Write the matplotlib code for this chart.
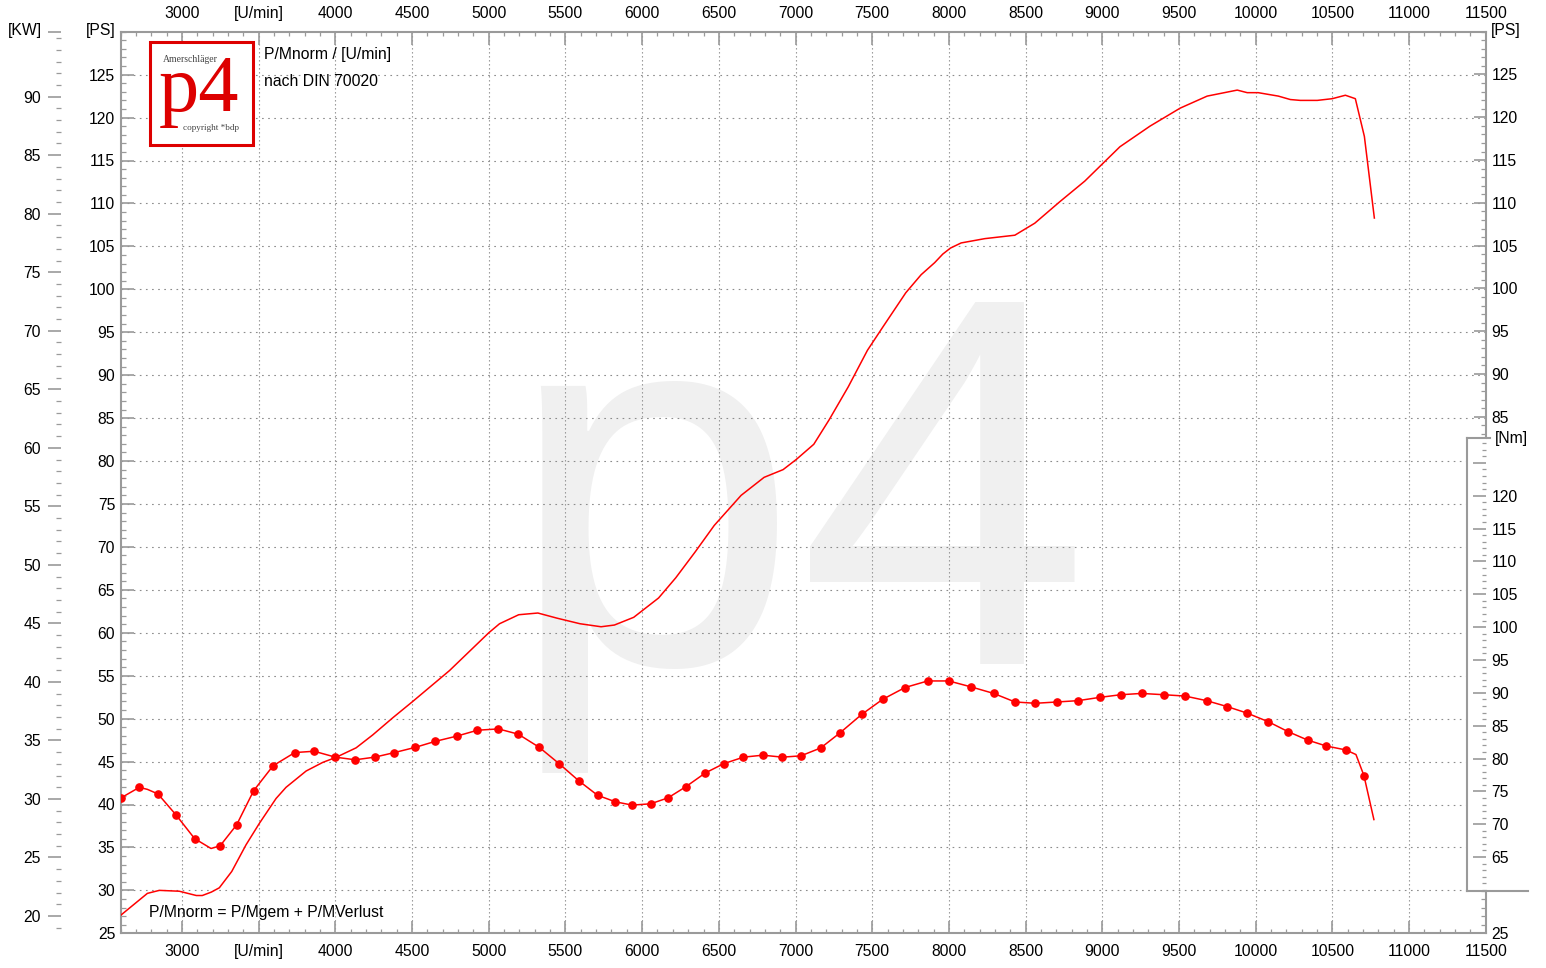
import matplotlib
matplotlib.use("Agg")
import matplotlib.pyplot as plt
from matplotlib.patches import Rectangle
from matplotlib.lines import Line2D
from matplotlib.ticker import MultipleLocator, FixedLocator, FixedFormatter

plt.rcParams['font.family'] = ['Liberation Sans', 'DejaVu Sans']

# power curve P/Mnorm [PS] over engine speed [U/min]
power_rpm = [2600, 2774, 2852, 2982, 3093, 3132, 3191, 3243, 3324, 3417, 3504, 3613, 3678, 3809, 3917,
             4005, 4135, 4243, 4374, 4504, 4744, 5000, 5070, 5195, 5320, 5445, 5595, 5732, 5819, 5945,
             6107, 6219, 6345, 6470, 6645, 6795, 6919, 7006, 7119, 7219, 7344, 7469, 7569, 7719, 7819,
             7907, 7960, 8010, 8080, 8234, 8430, 8560, 8723, 8886, 9115, 9311, 9508, 9684, 9880, 9945,
             10017, 10082, 10148, 10226, 10291, 10402, 10500, 10585, 10650, 10709, 10774]
power_ps = [27.1, 29.65, 30.0, 29.9, 29.4, 29.4, 29.8, 30.3, 32.2, 35.3, 37.8, 40.7, 42.0, 43.9, 44.9,
            45.5, 46.6, 48.1, 50.1, 52.0, 55.6, 60.0, 61.05, 62.1, 62.3, 61.7, 61.05, 60.7, 60.9, 61.8,
            64.05, 66.4, 69.4, 72.5, 76.0, 78.1, 79.0, 80.2, 81.95, 84.8, 88.65, 92.9, 95.6, 99.6, 101.7,
            103.1, 104.1, 104.8, 105.4, 105.9, 106.3, 107.7, 110.2, 112.6, 116.6, 119.0, 121.1, 122.5, 123.2, 122.9,
            122.9, 122.7, 122.5, 122.1, 122.0, 122.0, 122.2, 122.6, 122.2, 117.8, 108.3]

# torque curve [Nm]
torque_rpm = [2602, 2721, 2774, 2843, 2961, 3082, 3189, 3248, 3356, 3467, 3594, 3735, 3861, 4000, 4129,
              4256, 4385, 4522, 4650, 4791, 4926, 5063, 5192, 5329, 5459, 5587, 5709, 5826, 5935, 6055,
              6168, 6285, 6412, 6531, 6660, 6787, 6914, 7035, 7164, 7290, 7431, 7568, 7714, 7862, 7999,
              8144, 8292, 8431, 8564, 8705, 8842, 8984, 9119, 9256, 9403, 9540, 9680, 9814, 9945, 10082,
              10210, 10339, 10460, 10588, 10654, 10706, 10771]
torque_nm = [74.0, 75.6, 75.3, 74.6, 71.4, 67.8, 66.3, 66.7, 69.9, 75.1, 78.9, 80.9, 81.1, 80.2, 79.8,
             80.2, 80.9, 81.7, 82.6, 83.4, 84.3, 84.5, 83.7, 81.7, 79.2, 76.6, 74.4, 73.4, 72.9, 73.1,
             74.0, 75.7, 77.8, 79.2, 80.2, 80.5, 80.2, 80.4, 81.6, 83.9, 86.7, 89.0, 90.8, 91.8, 91.8,
             90.9, 89.9, 88.6, 88.4, 88.6, 88.8, 89.3, 89.7, 89.9, 89.7, 89.5, 88.8, 87.9, 86.9, 85.6,
             84.1, 82.8, 81.9, 81.3, 80.6, 77.4, 70.7]
# samples of the torque line that carry no dot
torque_no_dot = [2774, 3189, 10654, 10771]

rpm_ticks = [3000, 3500, 4000, 4500, 5000, 5500, 6000, 6500, 7000, 7500, 8000, 8500, 9000, 9500,
             10000, 10500, 11000, 11500]
rpm_labels = ['3000', '[U/min]', '4000', '4500', '5000', '5500', '6000', '6500', '7000', '7500',
              '8000', '8500', '9000', '9500', '10000', '10500', '11000', '11500']
ps_ticks = [25, 30, 35, 40, 45, 50, 55, 60, 65, 70, 75, 80, 85, 90, 95, 100, 105, 110, 115, 120, 125]
kw_ticks = [20, 25, 30, 35, 40, 45, 50, 55, 60, 65, 70, 75, 80, 85, 90]
nm_ticks = [65, 70, 75, 80, 85, 90, 95, 100, 105, 110, 115, 120, 125]

W, H = 1546, 968
GRAY = '#9a9a9a'
GRID = '#8c8c8c'
RED = '#ff0000'
FS = 11.3


def rect(x0, y0, x1, y1):
    return [x0 / W, 1 - y1 / H, (x1 - x0) / W, (y1 - y0) / H]


def fx(x):
    return x / W


def fy(y):
    return 1 - y / H


L, R, T, B = 120.7, 1485.7, 31.7, 933.3

fig = plt.figure(figsize=(W / 100, H / 100), dpi=100)

ax = fig.add_axes(rect(L, T, R, B))
ax.set_xlim(2600, 11500)
ax.set_ylim(25, 130)
for s in ['top', 'bottom', 'left']:
    ax.spines[s].set_color(GRAY)
    ax.spines[s].set_linewidth(1.5)
ax.spines['right'].set_visible(False)

ax.xaxis.set_major_locator(FixedLocator(rpm_ticks))
ax.xaxis.set_major_formatter(FixedFormatter(rpm_labels))
ax.xaxis.set_minor_locator(MultipleLocator(100))
ax.yaxis.set_major_locator(FixedLocator(ps_ticks))
ax.yaxis.set_minor_locator(MultipleLocator(1))
ax.tick_params(axis='x', which='both', direction='in', top=True, bottom=True,
               labeltop=True, labelbottom=True, color=GRAY)
ax.tick_params(axis='x', which='major', length=9, width=1.2, pad=7.5, labelsize=FS)
ax.tick_params(axis='x', which='minor', length=3, width=0.9)
ax.tick_params(axis='y', which='both', direction='in', left=True, right=False, color=GRAY)
ax.tick_params(axis='y', which='major', length=9.4, width=1.2, pad=4, labelsize=FS)
ax.tick_params(axis='y', which='minor', length=3.6, width=0.9)

# grid
for v in rpm_ticks[:-1]:
    ax.axvline(v, color=GRID, lw=0.8, ls=(0, (1.2, 2.4)), zorder=1)
for v in ps_ticks[1:]:
    ax.axhline(v, color=GRID, lw=0.8, ls=(0, (1.5, 4.0)), zorder=1)

# watermark
ax.text(fx(506), fy(664), 'p4', transform=fig.transFigure, fontsize=378, color='#f0f0f0',
        family='Liberation Sans', ha='left', va='baseline', zorder=0.5)

ax.plot(power_rpm, power_ps, color=RED, lw=1.1, zorder=3)

# torque on its own scale
ax_t = fig.add_axes(rect(L, T, R, B), sharex=ax)
ax_t.set_ylim(53.39, 190.62)
ax_t.axis('off')
ax_t.patch.set_visible(False)
dot_idx = [i for i, r in enumerate(torque_rpm) if r not in torque_no_dot]
ax_t.plot(torque_rpm, torque_nm, color=RED, lw=1.1, marker='o', ms=5.2, markevery=dot_idx, zorder=3)

# kW scale on the far left
ax_kw = fig.add_axes(rect(61, T, 62, B))
ax_kw.set_ylim(18.52, 95.55)
ax_kw.patch.set_visible(False)
for s in ax_kw.spines.values():
    s.set_visible(False)
ax_kw.xaxis.set_visible(False)
ax_kw.yaxis.set_major_locator(FixedLocator(kw_ticks + [95.55]))
ax_kw.yaxis.set_major_formatter(FixedFormatter([str(k) for k in kw_ticks] + ['']))
ax_kw.yaxis.set_minor_locator(MultipleLocator(1))
ax_kw.tick_params(axis='y', which='both', direction='out', color=GRAY)
ax_kw.tick_params(axis='y', which='major', length=9.4, width=1.2, pad=5, labelsize=FS)
ax_kw.tick_params(axis='y', which='minor', length=3.6, width=0.9)

# right PS scale, interrupted by the Nm scale
NM_TOP, NM_BOT, NM_X = 437.7, 890.7, 1467.3
for (y0, y1, lo, hi, lab) in [(T, NM_TOP, 82.56, 130, [85, 90, 95, 100, 105, 110, 115, 120, 125]),
                              (NM_BOT, B, 25, 30, [25])]:
    a = fig.add_axes(rect(1470, y0, R, y1))
    a.set_ylim(lo, hi)
    a.patch.set_visible(False)
    for s in ['top', 'bottom', 'left']:
        a.spines[s].set_visible(False)
    a.spines['right'].set_color(GRAY)
    a.spines['right'].set_linewidth(1.5)
    a.xaxis.set_visible(False)
    a.yaxis.set_major_locator(FixedLocator(lab))
    a.yaxis.set_minor_locator(MultipleLocator(1))
    a.tick_params(axis='y', which='both', direction='in', left=False, right=True,
                  labelleft=False, labelright=True, color=GRAY)
    a.tick_params(axis='y', which='major', length=9, width=1.2, pad=4, labelsize=FS)
    a.tick_params(axis='y', which='minor', length=3.6, width=0.9)

# Nm scale
ax_nm = fig.add_axes(rect(NM_X, NM_TOP, R, NM_BOT))
ax_nm.set_ylim(59.88, 128.83)
ax_nm.set_facecolor('white')
for s in ['top', 'bottom', 'right']:
    ax_nm.spines[s].set_visible(False)
ax_nm.spines['left'].set_color(GRAY)
ax_nm.spines['left'].set_linewidth(1.5)
ax_nm.xaxis.set_visible(False)
ax_nm.yaxis.set_major_locator(FixedLocator(nm_ticks))
ax_nm.yaxis.set_major_formatter(FixedFormatter([str(n) if n < 125 else '' for n in nm_ticks]))
ax_nm.yaxis.set_minor_locator(MultipleLocator(1))
ax_nm.tick_params(axis='y', which='both', direction='in', left=False, right=True,
                  labelleft=False, labelright=True, color=GRAY)
ax_nm.tick_params(axis='y', which='major', length=9.4, width=1.2, pad=4, labelsize=FS)
ax_nm.tick_params(axis='y', which='minor', length=3.2, width=0.9)
fig.add_artist(Line2D([fx(NM_X - 0.7), fx(1490)], [fy(NM_TOP), fy(NM_TOP)], color=GRAY, lw=1.5,
                      transform=fig.transFigure))
fig.add_artist(Line2D([fx(NM_X - 0.7), fx(1528)], [fy(NM_BOT), fy(NM_BOT)], color=GRAY, lw=1.5,
                      transform=fig.transFigure))

# unit labels and notes
fig.text(fx(42), fy(30), '[KW]', ha='right', va='center', fontsize=FS)
fig.text(fx(116), fy(30), '[PS]', ha='right', va='center', fontsize=FS)
fig.text(fx(1491), fy(30), '[PS]', ha='left', va='center', fontsize=FS)
fig.text(fx(1495), fy(438), '[Nm]', ha='left', va='center', fontsize=FS)
fig.text(fx(264), fy(54), 'P/Mnorm / [U/min]', ha='left', va='center', fontsize=FS)
fig.text(fx(264), fy(81), 'nach DIN 70020', ha='left', va='center', fontsize=FS)
fig.text(fx(149), fy(912), 'P/Mnorm = P/Mgem + P/MVerlust', ha='left', va='center', fontsize=FS)

# logo: big p4 with the two small lines tucked into its free corners
fig.add_artist(Rectangle((fx(150), fy(145)), (253 - 150) / W, (145 - 42) / H, transform=fig.transFigure,
                         facecolor='white', edgecolor='#dd0000', lw=2.2, zorder=2))
fig.text(fx(159), fy(111), 'p4', ha='left', va='baseline', fontsize=58,
         family='Liberation Serif', color='#dd0000', zorder=3)
fig.text(fx(190.5), fy(59.3), 'Amerschläger', ha='center', va='center', fontsize=7,
         family='Liberation Serif', color='#444444', zorder=4)
fig.text(fx(211.5), fy(128), 'copyright *bdp', ha='center', va='center', fontsize=6.6,
         family='Liberation Serif', color='#444444', zorder=4)

fig.savefig('out.png', dpi=100)
